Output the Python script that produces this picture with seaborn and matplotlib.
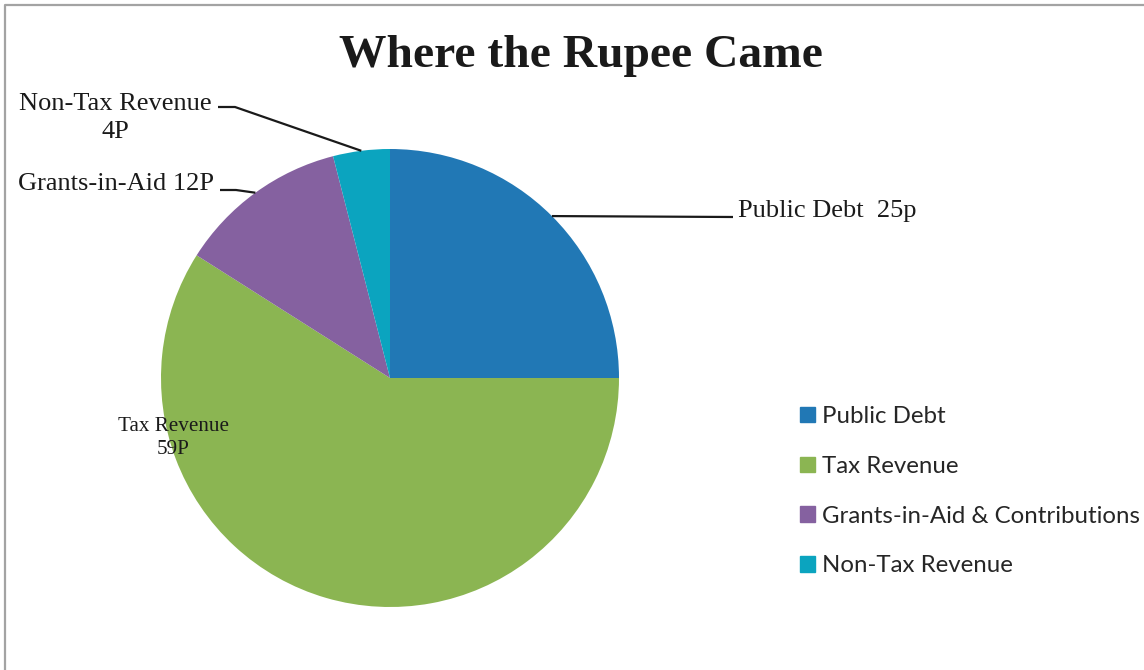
import numpy as np
import matplotlib
matplotlib.use("Agg")
import matplotlib.pyplot as plt
import seaborn as sns
from matplotlib.lines import Line2D

categories = ["Public Debt", "Tax Revenue", "Grants-in-Aid & Contributions", "Non-Tax Revenue"]
values = [25, 59, 12, 4]
slice_labels = ["Public Debt  25p", "Tax Revenue\n59P", "Grants-in-Aid 12P", "Non-Tax Revenue\n4P"]
colors = ["#2178B5", "#8BB552", "#8561A0", "#0BA4BF"]
title = "Where the Rupee Came"

sns.set_theme(style="white")
plt.rcParams["font.family"] = ["Liberation Serif", "DejaVu Serif"]

W, H = 1144, 670
fig = plt.figure(figsize=(W / 100, H / 100), dpi=100)
fig.patch.set_facecolor("white")

cx, cy, R = 390, 378, 229
ax = fig.add_axes([(cx - R) / W, (H - cy - R) / H, 2 * R / W, 2 * R / H])
wedges, _ = ax.pie(values, colors=colors, startangle=90, counterclock=False,
                   radius=1.0, wedgeprops=dict(linewidth=0))
ax.set_xlim(-1, 1)
ax.set_ylim(-1, 1)
ax.set_aspect("equal")
ax.axis("off")


def px(x, y):
    return ((x - cx) / R, (cy - y) / R)


def anchor(w):
    t = np.deg2rad((w.theta1 + w.theta2) / 2)
    return np.cos(t), np.sin(t)


lab_kw = dict(color="#1a1a1a", fontsize=19, clip_on=False)
line_kw = dict(color="#1a1a1a", lw=1.6, clip_on=False, solid_capstyle="butt")

# Public Debt
a = anchor(wedges[0])
e = px(733, 217)
ax.add_line(Line2D([a[0], e[0]], [a[1], e[1]], **line_kw))
ax.text(*px(738, 211), slice_labels[0], ha="left", va="center", **lab_kw)

# Tax Revenue
ax.text(*px(173, 438), slice_labels[1], ha="center", va="center",
        multialignment="center", color="#1a1a1a", fontsize=15.2, linespacing=1.25)

# Grants
a = anchor(wedges[2])
p1 = px(236, 190)
p2 = px(220, 190)
ax.add_line(Line2D([a[0], p1[0], p2[0]], [a[1], p1[1], p2[1]], **line_kw))
ax.text(*px(214, 184), slice_labels[2], ha="right", va="center", **lab_kw)

# Non-Tax
a = anchor(wedges[3])
p1 = px(235, 107)
p2 = px(218, 107)
ax.add_line(Line2D([a[0], p1[0], p2[0]], [a[1], p1[1], p2[1]], **line_kw))
ax.text(*px(115, 118), slice_labels[3], ha="center", va="center",
        multialignment="center", linespacing=1.4, **lab_kw)

fig.text(581 / W, 1 - 56 / H, title, ha="center", va="center",
         fontsize=34.2, fontweight="bold", color="#1a1a1a")

handles = [plt.Rectangle((0, 0), 1, 1, color=c) for c in colors]
leg = fig.legend(handles, categories, loc="upper left",
                 bbox_to_anchor=(800 / W, 1 - 406 / H), frameon=False,
                 prop={"family": "Lato", "size": 17.3},
                 handlelength=0.62, handleheight=0.62, handletextpad=0.3,
                 labelspacing=1.2, borderpad=0, borderaxespad=0)
for t in leg.get_texts():
    t.set_color("#262626")

fig.add_artist(Line2D([5 / W, 5 / W, 1.0], [0.0, 1 - 5 / H, 1 - 5 / H],
                      transform=fig.transFigure, color="#A3A3A3", lw=1.6))

fig.savefig("out.png", dpi=100, facecolor="white")
